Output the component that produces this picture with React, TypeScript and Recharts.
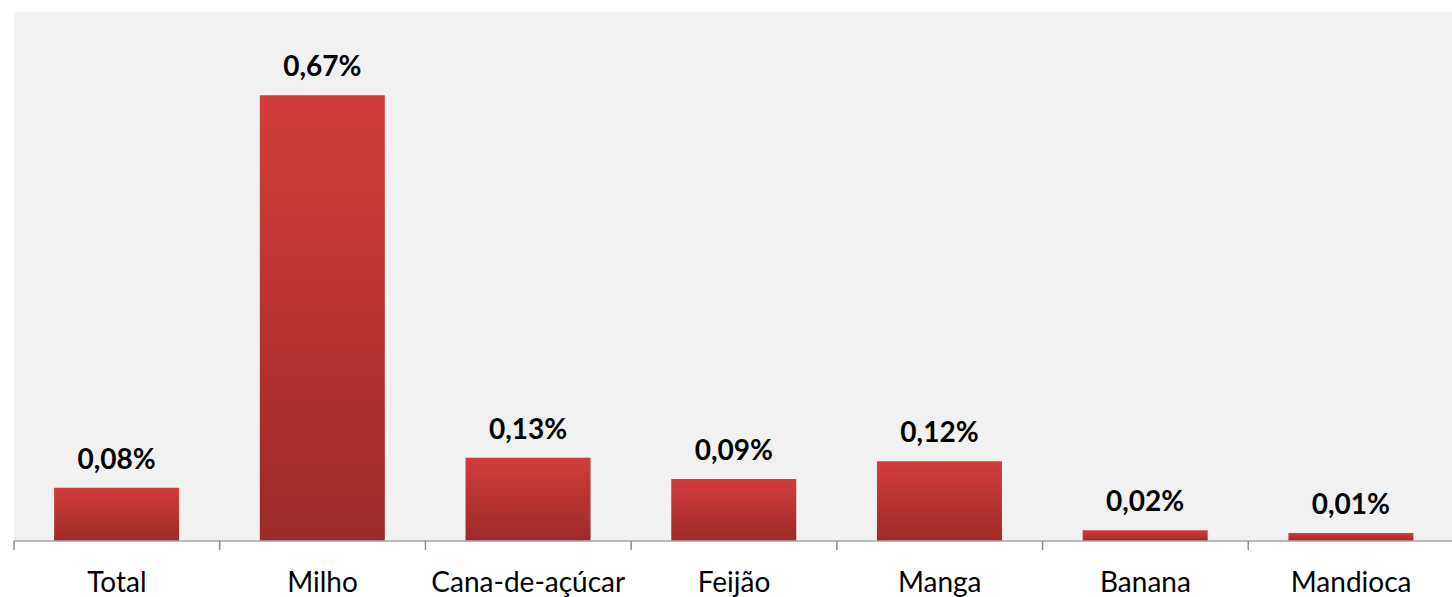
import { Bar, BarChart, CartesianGrid, LabelList, XAxis, YAxis } from 'recharts';

const categories = ['Total', 'Milho', 'Cana-de-açúcar', 'Feijão', 'Manga', 'Banana', 'Mandioca'];
const values = [0.08, 0.67, 0.125, 0.093, 0.12, 0.016, 0.012];
const valueLabels = ['0,08%', '0,67%', '0,13%', '0,09%', '0,12%', '0,02%', '0,01%'];

const data = categories.map((name, i) => ({ name, value: values[i], label: valueLabels[i] }));

const FONT = 'Lato, "Open Sans", sans-serif';

function CategoryTick(props: any) {
  const { x, y, payload, index } = props;
  const half = payload.offset ?? 0;
  const axisY = y - 8;
  return (
    <g>
      <line x1={x - half} x2={x - half} y1={axisY} y2={axisY + 9} stroke="#8c8c8c" strokeWidth={1.5} />
      {index === categories.length - 1 && (
        <line x1={x + half} x2={x + half} y1={axisY} y2={axisY + 9} stroke="#8c8c8c" strokeWidth={1.5} />
      )}
      <text x={x} y={axisY + 31} dy="0.71em" textAnchor="middle" fill="#000" fontSize={28} fontFamily={FONT}>
        {payload.value}
      </text>
    </g>
  );
}

export default function App() {
  return (
    <div style={{ position: 'fixed', left: 0, top: 0, width: 1452, height: 597, overflow: 'hidden', background: '#fff' }}>
      <BarChart
        width={1454}
        height={597}
        data={data}
        margin={{ top: 12, right: 0, bottom: 0, left: 14 }}
        barCategoryGap="19.5%"
      >
        <defs>
          <linearGradient id="redBar" x1="0" y1="0" x2="0" y2="1">
            <stop offset="0%" stopColor="#d23d3b" />
            <stop offset="100%" stopColor="#9c2a29" />
          </linearGradient>
        </defs>
        <CartesianGrid horizontal={false} vertical={false} fill="#f1f1f1" />
        <XAxis
          dataKey="name"
          height={56}
          axisLine={{ stroke: '#a6a6a6', strokeWidth: 1.5 }}
          tickLine={false}
          tick={<CategoryTick />}
          interval={0}
        />
        <YAxis hide domain={[0, 0.795]} />
        <Bar dataKey="value" fill="url(#redBar)" isAnimationActive={false}>
          <LabelList
            dataKey="label"
            position="top"
            offset={19}
            fill="#000"
            fontSize={28}
            fontWeight="bold"
            fontFamily={FONT}
          />
        </Bar>
      </BarChart>
    </div>
  );
}
